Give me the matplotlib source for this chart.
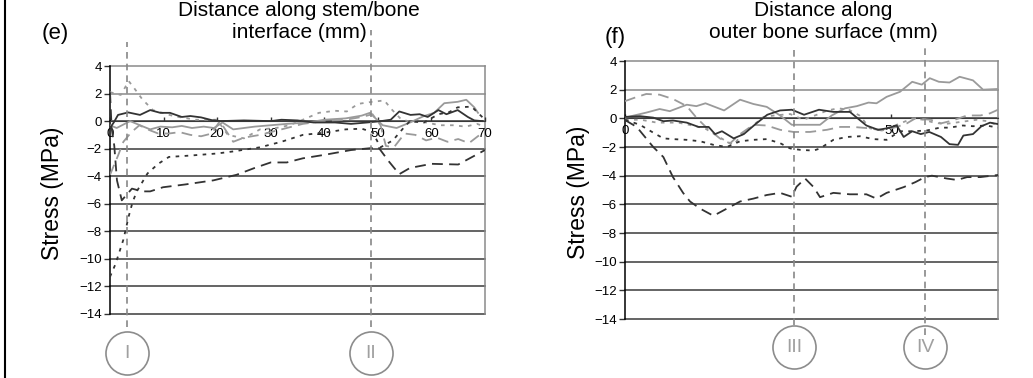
import matplotlib
matplotlib.use("Agg")
from matplotlib import pyplot as plt
from matplotlib.lines import Line2D

plt.rcParams['font.family'] = ['Liberation Sans', 'DejaVu Sans']

# ---- 面板 (e)：沿柄/骨界面 ----
e_dark_solid_x = [0, 0.7, 1.5, 3.4, 5.6, 7.5, 9.4, 11.2, 13.4, 15, 17, 19, 20.6, 25, 30, 32, 35, 38, 42, 45, 48,
                  50.6, 52.4, 54, 56.1, 57.8, 59.3, 61.3, 62.8, 64.9, 66.8, 68, 69.5]
e_dark_solid_y = [-0.5, -0.1, 0.45, 0.63, 0.45, 0.8, 0.6, 0.6, 0.3, 0.37, 0.27, 0.07, 0.0, 0.05, 0.0, 0.1, 0.05, -0.1,
                  -0.1, -0.2, -0.1, 0.0, 0.1, 0.7, 0.45, 0.5, 0.3, 0.8, 0.5, 0.8, 0.3, 0.05, 0.0]
e_dark_long_x = [0, 0.3, 0.8, 1.3, 2.2, 4.1, 6, 7.5, 9.9, 14, 19.3, 23.6, 27, 30, 33, 36, 40, 45, 49, 50, 52, 54, 56,
                 60, 65, 70]
e_dark_long_y = [2.1, -0.5, -1.8, -4.3, -5.75, -4.9, -5.1, -5.1, -4.8, -4.6, -4.3, -3.9, -3.4, -3.0, -3.0, -2.7,
                 -2.45, -2.1, -1.95, -1.85, -2.9, -3.85, -3.4, -3.1, -3.15, -2.1]
e_dark_short_x = [0, 1, 2.5, 3.5, 4.2, 5, 7, 9, 11, 15, 20, 23, 28, 32, 36, 40, 44, 47, 49, 50.5, 52.8, 55, 56, 58.6,
                  61.3, 63.3, 64.9, 67.5, 70]
e_dark_short_y = [-11.3, -10.4, -8.6, -6.9, -5.9, -5.1, -3.8, -3.1, -2.6, -2.5, -2.35, -2.2, -1.9, -1.5, -1.0, -0.84,
                  -0.6, -0.55, -0.8, -1.9, -1.4, -0.4, 0.0, -0.1, 0.5, 0.65, 1.0, 1.05, 0.1]
e_gray_solid_x = [0, 1.25, 3.75, 5.6, 7.5, 9.4, 11.6, 13.4, 15.3, 17.5, 19.4, 21, 23, 27, 30, 33, 37, 40, 44, 47, 48.5,
                  50.9, 53.5, 56, 58.5, 60.5, 62.4, 64.9, 66.5, 68, 68.7]
e_gray_solid_y = [-0.3, -0.5, 0.0, -0.3, -0.6, -0.4, -0.45, -0.35, -0.5, -0.4, -0.5, -0.1, -0.6, -0.4, -0.3, -0.2,
                  -0.1, 0.1, 0.2, 0.4, 0.6, -0.3, -0.5, -0.1, 0.35, 0.6, 1.3, 1.4, 1.55, 1.0, 0.6]
e_gray_long_x = [0, 1.5, 2.5, 4, 5.5, 7, 9, 11, 13, 15, 17, 19, 20.5, 23, 25, 28, 32, 36, 40, 44, 47, 49, 50.5, 51.5,
                 53, 55, 57, 59, 61, 63, 65, 67, 69, 70]
e_gray_long_y = [-3.9, -2.5, -1.5, -0.8, -0.3, -0.6, -0.9, -0.9, -0.8, -1.0, -1.1, -0.9, 0.0, -1.5, -1.2, -1.0, -0.6,
                 -0.2, 0.0, 0.1, 0.3, 0.5, -0.3, -1.8, -1.9, -0.9, -1.0, -1.4, -1.2, -1.5, -1.3, -1.6, -1.0, -1.1]
e_gray_short_x = [0, 2, 3.5, 4.5, 6, 8, 12, 16, 20, 22, 25, 28, 31, 33.5, 36, 39, 42, 44.2, 46.3, 48.9, 51.2, 52.7,
                  54.3, 56, 59, 61.6, 64, 66.4, 68.5, 70]
e_gray_short_y = [2.1, 1.9, 2.9, 2.4, 1.6, 0.8, 0.35, 0.1, 0.1, -1.0, -1.25, -0.6, -0.5, -0.3, 0.1, 0.6, 0.75, 0.7,
                  1.25, 1.4, 1.5, 0.8, 0.15, -0.05, -0.1, -0.3, -0.3, -0.4, -0.2, -0.4]

# ---- 面板 (f)：沿骨外表面 ----
f_dark_solid_x = [0, 2.8, 5.3, 7.2, 9, 11.6, 13.8, 15.7, 16.9, 18.2, 20.4, 22.3, 24.5, 26.7, 29.1, 31.3, 33.6, 36.4,
                  39.1, 42.2, 45.3, 47.5, 49.1, 51, 52.3, 53.9, 55.5, 57.1, 59.3, 60.9, 62.5, 63.5, 65.3, 66.9, 68.5, 70]
f_dark_solid_y = [0.1, 0.15, 0.05, -0.2, -0.15, -0.3, -0.6, -0.6, -1.1, -0.9, -1.4, -1.1, -0.4, 0.25, 0.55, 0.6, 0.25,
                  0.6, 0.45, 0.45, -0.5, -0.8, -0.7, -0.5, -1.3, -0.9, -1.1, -0.95, -1.3, -1.8, -1.85, -1.2, -1.1,
                  -0.55, -0.3, -0.4]
f_dark_long_x = [0, 2.2, 5.3, 7.2, 9, 10.9, 12.2, 14.1, 16.6, 19.1, 21.6, 24.1, 26.6, 29.1, 31.3, 32.2, 33.8, 35.4,
                 36.6, 39.1, 42.2, 45.3, 47.2, 49.1, 52.3, 54.5, 56.3, 57.6, 60.4, 62.3, 64.2, 66.7, 70]
f_dark_long_y = [-0.12, -0.6, -2.0, -2.7, -4.1, -5.2, -5.8, -6.3, -6.8, -6.3, -5.8, -5.6, -5.35, -5.2, -5.47, -4.77,
                 -4.2, -4.8, -5.5, -5.2, -5.3, -5.3, -5.6, -5.2, -4.8, -4.45, -4.1, -4.0, -4.2, -4.3, -4.1, -4.1, -3.95]
f_dark_short_x = [0, 2.8, 5.3, 7.2, 9, 11.6, 14.1, 16.6, 19.1, 21.6, 24.1, 26.6, 29.1, 31, 32.9, 35.4, 36.6, 39.1,
                  41.6, 44.1, 46.6, 49.1, 51.6, 54.1, 56.6, 59.1, 60.9, 63.4, 65.3, 67.8, 70]
f_dark_short_y = [-0.1, -0.45, -1.0, -1.4, -1.45, -1.5, -1.6, -1.85, -2.0, -1.6, -1.5, -1.45, -1.73, -2.1, -2.2, -2.25,
                  -2.1, -1.5, -1.3, -1.25, -1.45, -1.5, -0.9, -0.9, -0.85, -0.65, -0.65, -0.5, -0.55, -0.5, -0.65]
f_gray_solid_x = [0, 4, 6.5, 8.4, 11.6, 13.4, 15.1, 18.6, 21.6, 24.1, 26.6, 29.1, 31.3, 36.6, 38.8, 41.3, 43.5, 45.7,
                  47.2, 49.1, 51.6, 53.9, 55.7, 57.2, 58.9, 60.9, 62.8, 65.3, 67.2, 70]
f_gray_solid_y = [0.05, 0.4, 0.65, 0.5, 0.95, 0.85, 1.05, 0.55, 1.3, 1.0, 0.8, 0.2, -0.45, -0.45, 0.2, 0.7, 0.85, 1.1,
                  1.05, 1.5, 1.85, 2.55, 2.35, 2.8, 2.55, 2.5, 2.9, 2.65, 2.0, 2.05]
f_gray_long_x = [0, 1.9, 4, 6.5, 9, 11.6, 13.4, 15.3, 17.8, 19.7, 21.6, 24.1, 26.6, 29.1, 31.6, 34.7, 37.9, 40.4,
                 42.8, 46, 48.2, 51, 52.9, 54.5, 57.4, 59.3, 61.5, 64.2, 66.7, 68.5, 70]
f_gray_long_y = [1.2, 1.45, 1.7, 1.65, 1.35, 0.85, 0.05, -0.65, -1.4, -1.75, -1.1, -0.45, -0.5, -0.8, -0.95, -0.95,
                 -0.8, -0.6, -0.6, -0.7, -0.85, -0.6, -0.35, 0.0, -0.1, -0.35, -0.15, 0.2, 0.2, 0.35, 0.6]
f_gray_short_x = [0, 3, 6, 10, 12, 15, 17, 19, 20.4, 22, 24, 26, 28, 31, 33.5, 36, 38, 40, 42, 44, 46, 48, 50, 52,
                  54, 56, 58, 60, 62, 64, 66, 68, 70]
f_gray_short_y = [-0.1, -0.1, -0.3, -0.3, -0.45, -0.7, -1.15, -1.6, -1.85, -1.1, -0.5, 0.1, 0.2, 0.3, -0.1, 0.25,
                  0.55, 0.7, 0.6, 0.2, -0.7, -0.8, -0.6, -0.3, 0.0, -0.1, -0.3, -0.4, -0.3, -0.2, -0.1, -0.2, -0.5]

# 竖直参考线位置（mm）和圈内编号
e_marks = [3.2, 48.7]
e_mark_labels = ['I', 'II']
f_marks = [31.7, 56.3]
f_mark_labels = ['III', 'IV']

y_ticks = list(range(4, -15, -2))
e_x_ticks = list(range(0, 71, 10))
f_x_ticks = [0, 50]

DARK = '#333333'
GRAY = '#9a9a9a'
LONG = (6, 3.5)
SHORT = (2, 3)

W, H = 1033, 378
fig = plt.figure(figsize=(W / 100, H / 100), dpi=100)


def px_ax(l, t, r, b):
    return fig.add_axes([l / W, 1 - b / H, (r - l) / W, (b - t) / H])


def setup(ax, xticks):
    ax.set_xlim(0, 70)
    ax.set_ylim(-14, 4)
    for y in y_ticks:
        c = '#8a8a8a' if y > 0 else '#3a3a3a'
        ax.axhline(y, color=c, lw=1.1, clip_on=False, zorder=1)
    ax.axvline(70, color='#8a8a8a', lw=1.1, clip_on=False, zorder=1)
    for s in ['top', 'right']:
        ax.spines[s].set_visible(False)
    ax.spines['left'].set_color('black')
    ax.spines['left'].set_linewidth(1.1)
    ax.spines['bottom'].set_position(('data', 0))
    ax.spines['bottom'].set_color('#3a3a3a')
    ax.set_yticks(y_ticks)
    ax.set_xticks(xticks)
    ax.tick_params(axis='y', labelsize=9.5, length=4, width=1, color='#333333', pad=2)
    ax.tick_params(axis='x', labelsize=9.5, length=3, width=1, color='#333333', pad=5, direction='in')
    ax.set_facecolor('white')


def draw(ax, data):
    for xs, ys, col, dash in data:
        line, = ax.plot(xs, ys, color=col, lw=1.3, zorder=3)
        if dash is not None:
            line.set_dashes(dash)


def mark(ax, xs, labels, ytop, ybot, circ_y, ax_top, ax_bot):
    h = ax_bot - ax_top
    for x, lab, yt, yb in zip(xs, labels, ytop, ybot):
        ax.axvline(x, ymin=(ax_bot - yb) / h, ymax=(ax_bot - yt) / h, color='#888888', lw=1.2,
                   dashes=(4, 3), clip_on=False, zorder=4)
        # 圈：用坐标系的x变换得到像素位置
        xp = ax.transData.transform((x, 0))[0]
        fig.add_artist(Line2D([xp / W], [1 - circ_y / H], marker='o', ms=31, mfc='none', mec='#8c8c8c',
                              mew=1.2, transform=fig.transFigure))
        fig.text(xp / W, 1 - (circ_y + 1) / H, lab, ha='center', va='center', fontsize=14, color='#a0a0a0')


# (e)
ax1 = px_ax(110, 66, 485, 314)
setup(ax1, e_x_ticks)
draw(ax1, [
    (e_gray_solid_x, e_gray_solid_y, GRAY, None),
    (e_gray_long_x, e_gray_long_y, GRAY, LONG),
    (e_gray_short_x, e_gray_short_y, GRAY, SHORT),
    (e_dark_solid_x, e_dark_solid_y, DARK, None),
    (e_dark_long_x, e_dark_long_y, DARK, LONG),
    (e_dark_short_x, e_dark_short_y, DARK, SHORT),
])
mark(ax1, e_marks, e_mark_labels, [42, 30], [327, 327], 353, 66, 314)

# (f)
ax2 = px_ax(625, 61, 998, 319)
setup(ax2, f_x_ticks)
draw(ax2, [
    (f_gray_solid_x, f_gray_solid_y, GRAY, None),
    (f_gray_long_x, f_gray_long_y, GRAY, LONG),
    (f_gray_short_x, f_gray_short_y, GRAY, SHORT),
    (f_dark_solid_x, f_dark_solid_y, DARK, None),
    (f_dark_long_x, f_dark_long_y, DARK, LONG),
    (f_dark_short_x, f_dark_short_y, DARK, SHORT),
])
mark(ax2, f_marks, f_mark_labels, [47, 47], [325, 335], 347, 61, 319)

# 文字
fig.text(299 / W, 1 - 22 / H, "Distance along stem/bone\ninterface (mm)", ha='center', va='center',
         fontsize=15, linespacing=1.2)
fig.text(823 / W, 1 - 22 / H, "Distance along\nouter bone surface (mm)", ha='center', va='center',
         fontsize=15, linespacing=1.2)
fig.text(55 / W, 1 - 33 / H, "(e)", ha='center', va='center', fontsize=16)
fig.text(615 / W, 1 - 37 / H, "(f)", ha='center', va='center', fontsize=16)
fig.text(52 / W, 1 - 193 / H, "Stress (MPa)", ha='center', va='center', rotation=90, fontsize=16.5)
fig.text(578 / W, 1 - 192 / H, "Stress (MPa)", ha='center', va='center', rotation=90, fontsize=16.5)

# 左边框竖线
fig.add_artist(Line2D([5 / W, 5 / W], [0, 1], color='black', lw=1.5, transform=fig.transFigure))

plt.savefig('out.png', dpi=100)
